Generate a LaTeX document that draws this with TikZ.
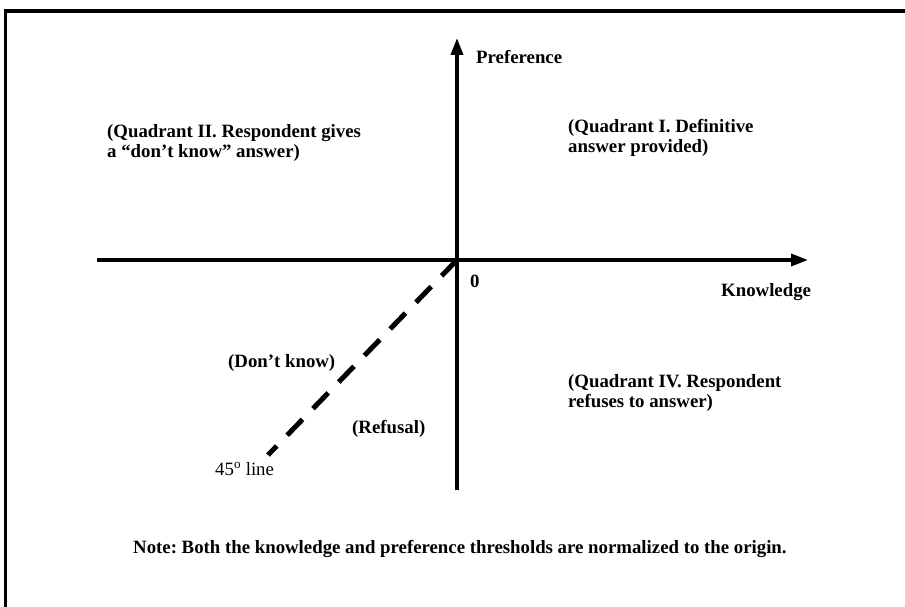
\documentclass[tikz,border=0pt]{standalone}
\usepackage{fontspec}
\setmainfont{Liberation Serif}
\usetikzlibrary{arrows.meta,positioning}

\begin{document}
\frenchspacing
\begin{tikzpicture}[x=1pt, y=-1pt,
  font=\fontsize{18.8}{20}\selectfont\bfseries,
  axis/.style={-{Triangle[length=17pt, width=12pt]}, line width=3.5pt},
  guide/.style={line width=5pt, dash pattern=on 22pt off 15pt},
  frame/.style={line width=3.5pt},
  lbl/.style={anchor=base west, inner sep=0pt},
  block/.style={anchor=north west, inner sep=0pt, align=left}
]
\useasboundingbox (0,0) rectangle (905,607);

% --- frame, open to the right and below ---
\draw[frame] (920,11) -- (5.5,11) -- (5.5,620);

% --- axes and the 45 degree line ---
\coordinate (origin) at (457,260);
\coordinate (xstart) at (97,260);
\coordinate (xend)   at (808,260);
\coordinate (ystart) at (457,490);
\coordinate (yend)   at (457,38);
\coordinate (diag)   at (268,455);

\draw[axis] (xstart) -- (xend);
\draw[axis] (ystart) -- (yend);
\draw[guide] (origin) -- (diag);

% --- axis labels ---
\node[lbl] (pref) at (476,64) {Preference};
\node[lbl] (know) at (721,296) {Knowledge};
\node[lbl] (zero) at (470,287) {0};

% --- quadrants ---
\node[block] (q2) at (107,124) {(Quadrant II. Respondent gives\\a “don’t know” answer)};
\node[block] (q1) at (568,119) {(Quadrant I. Definitive\\answer provided)};
\node[block] (q4) at (568,374) {(Quadrant IV. Respondent\\refuses to answer)};

\node[lbl] (dontknow) at (228,367) {(Don’t know)};
\node[lbl] (refusal)  at (352,433) {(Refusal)};
\node[lbl, font=\fontsize{18.8}{20}\selectfont\mdseries] (deg) at (215,475) {45\textsuperscript{o} line};

% --- note ---
\node[lbl] (note) at (133,553) {Note: Both the knowledge and preference thresholds are normalized to the origin.};

\end{tikzpicture}
\end{document}
